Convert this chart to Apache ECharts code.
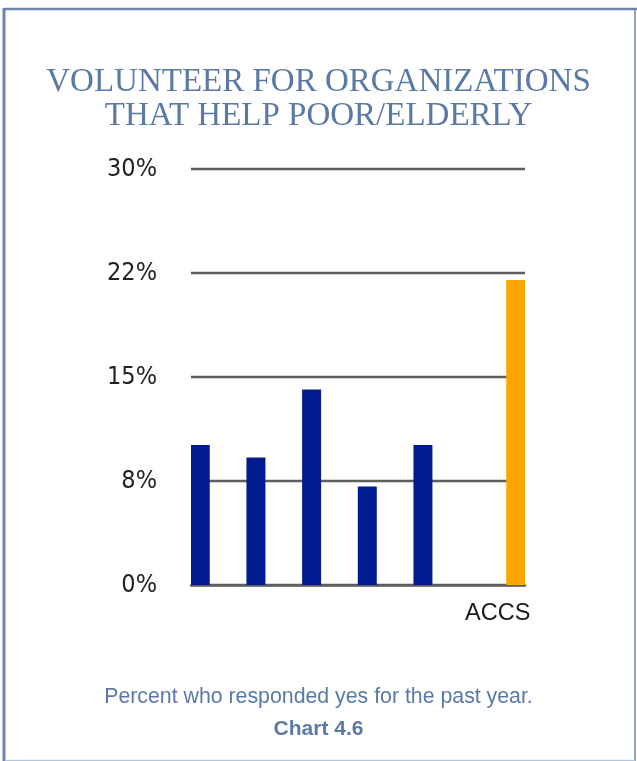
<!DOCTYPE html>
<html>
<head>
<meta charset="utf-8">
<script src="https://cdn.jsdelivr.net/npm/echarts@6/dist/echarts.min.js"></script>
<style>
  html, body { margin: 0; padding: 0; background: #ffffff; }
  #chart { width: 637px; height: 761px; }
</style>
</head>
<body>
<div id="chart"></div>
<script>
// ---- data ----
var categories = ['', '', '', '', '', 'ACCS'];
var values = [10.1, 9.2, 14.1, 7.1, 10.1, 22.0];
var yTicks = [0, 7.5, 15, 22.5, 30];
var titleLines = ['VOLUNTEER FOR ORGANIZATIONS', 'THAT HELP POOR/ELDERLY'];
var subtitle = 'Percent who responded yes for the past year.';
var chartLabel = 'Chart 4.6';

// ---- layout (slot positions along the category axis) ----
var slotOf = [0, 3, 6, 9, 12, 17];
var slotCount = 18;
var BLUE = '#031B91';
var ORANGE = '#FFA500';
var TEXT_BLUE = '#5B79A5';

var slotKeys = [];
var slotData = [];
for (var s = 0; s < slotCount; s++) { slotKeys.push('s' + s); slotData.push(null); }
var slotLabel = {};
for (var i = 0; i < values.length; i++) {
  slotData[slotOf[i]] = {
    value: values[i],
    itemStyle: { color: categories[i] === 'ACCS' ? ORANGE : BLUE }
  };
  slotLabel['s' + slotOf[i]] = categories[i];
}

function roundHalfEven(v) {
  var f = Math.floor(v), d = v - f;
  if (Math.abs(d - 0.5) < 1e-9) return (f % 2 === 0) ? f : f + 1;
  return Math.round(v);
}

var chart = echarts.init(document.getElementById('chart'), null, { renderer: 'canvas' });
chart.setOption({
  backgroundColor: '#ffffff',
  animation: false,
  title: [
    {
      text: titleLines.join('\n'),
      left: 'center',
      top: 66,
      padding: 0,
      textStyle: {
        fontFamily: "'Liberation Serif', 'DejaVu Serif', serif",
        fontSize: 33,
        fontWeight: 'normal',
        lineHeight: 33.4,
        color: TEXT_BLUE
      }
    },
    {
      text: subtitle,
      left: 'center',
      top: 687,
      padding: 0,
      textStyle: {
        fontFamily: "'Liberation Sans', Arial, sans-serif",
        fontSize: 21.3,
        fontWeight: 'normal',
        lineHeight: 21,
        color: TEXT_BLUE
      }
    },
    {
      text: chartLabel,
      left: 'center',
      top: 719,
      padding: 0,
      textStyle: {
        fontFamily: "'Liberation Sans', Arial, sans-serif",
        fontSize: 21,
        fontWeight: 'bold',
        lineHeight: 21,
        color: TEXT_BLUE
      }
    }
  ],
  grid: { left: 191, right: 112, top: 169, bottom: 176, containLabel: false },
  xAxis: {
    type: 'category',
    data: slotKeys,
    boundaryGap: true,
    axisLine: { show: true, lineStyle: { color: '#5E5E5E', width: 2.5 } },
    axisTick: { show: false },
    axisLabel: {
      interval: 0,
      margin: 17,
      fontFamily: "'Liberation Sans', Arial, sans-serif",
      fontSize: 23.5,
      color: '#1a1a1a',
      padding: [0, 36, 0, 0],
      formatter: function (v) { return slotLabel[v] || ''; }
    },
    splitLine: { show: false }
  },
  yAxis: {
    type: 'value',
    min: yTicks[0],
    max: yTicks[yTicks.length - 1],
    interval: yTicks[1] - yTicks[0],
    axisLine: { show: false },
    axisTick: { show: false },
    axisLabel: {
      margin: 34,
      fontFamily: "'Liberation Sans Narrow', 'DejaVu Sans Condensed', 'Liberation Sans', sans-serif",
      fontSize: 25,
      color: '#222222',
      formatter: function (v) { return roundHalfEven(v) + '%'; }
    },
    splitLine: { show: true, lineStyle: { color: '#5E5E5E', width: 2.4 } }
  },
  series: [{
    type: 'bar',
    data: slotData,
    barWidth: 19,
    itemStyle: { color: BLUE }
  }],
  graphic: [
    { type: 'line', shape: { x1: 4, y1: 9, x2: 637, y2: 9 }, style: { stroke: '#6A86AD', lineWidth: 2.5 } },
    { type: 'line', shape: { x1: 4, y1: 8, x2: 4, y2: 761 }, style: { stroke: '#6A86AD', lineWidth: 3 } },
    { type: 'line', shape: { x1: 635, y1: 9, x2: 635, y2: 761 }, style: { stroke: '#6A86AD', lineWidth: 1.5 } },
    { type: 'line', shape: { x1: 5, y1: 760.5, x2: 635, y2: 760.5 }, style: { stroke: '#B4C6DA', lineWidth: 1.5 } }
  ]
});
</script>
</body>
</html>
